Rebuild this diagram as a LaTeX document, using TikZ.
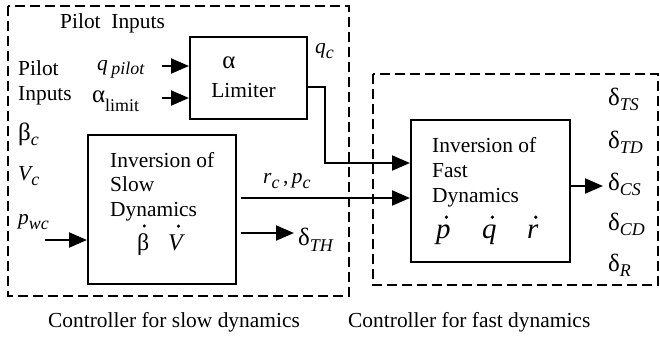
\documentclass[tikz,border=0pt]{standalone}
\usepackage{fontspec}
\setmainfont{Liberation Serif}
\usetikzlibrary{arrows.meta,calc}
\newcommand\lowsub[2][0.25em]{\raisebox{-#1}{\fontsize{18}{18}\selectfont #2}}
\newcommand\gk[1]{{\fontsize{25}{25}\selectfont #1}}
\begin{document}
\begin{tikzpicture}[x=1bp,y=-1bp,
  txt/.style={inner sep=0pt, anchor=base west, font=\fontsize{21.5}{26}\selectfont},
  big/.style={txt, font=\fontsize{29}{30}\selectfont\itshape},
  mid/.style={txt, font=\fontsize{24}{26}\selectfont},
  blk/.style={draw, line width=2bp, inner sep=0pt},
  dbox/.style={draw, line width=1.8bp, dash pattern=on 10bp off 5bp},
  arr/.style={line width=2bp, -{Triangle[length=18bp,width=15bp]}},
  dotacc/.style={fill=black}]
\useasboundingbox (0,0) rectangle (660,337);
% dashed frames
\draw[dbox] (8,6) rectangle (349,296);
\draw[dbox] (373,74) rectangle (658,285);
% blocks
\node[blk, minimum width=117bp, minimum height=82bp] (lim) at (248.5,78) {};
\node[blk, minimum width=148bp, minimum height=149bp] (slow) at (162,209.5) {};
\node[blk, minimum width=159bp, minimum height=142bp] (fast) at (490.5,191) {};
% texts
\node[txt] (pi1) at (60,28) {Pilot\ \ Inputs};
\node[txt] (pi2) at (18,75) {Pilot};
\node[txt] (pi3) at (18,100) {Inputs};
\node[txt] (bc) at (18,140) {\gk{β}\lowsub{\itshape c}};
\node[txt] (vc) at (18,180) {\itshape V\lowsub{c}};
\node[txt] (pwc) at (18,224) {\itshape p\lowsub{wc}};
\node[txt] (qpl) at (97,70) {\itshape q\,\lowsub[0.2em]{pilot}};
\node[txt] (alim) at (92,102) {\gk{α}\lowsub[0.45em]{limit}};
\node[txt, anchor=base] (la) at (229,68) {\gk{α}};
\node[txt, anchor=base] (ll) at (243.5,97) {Limiter};
\node[txt] (qc) at (315,53) {\itshape q\lowsub{c}};
\node[txt] (st1) at (110,167) {Inversion of};
\node[txt] (st2) at (110,191) {Slow};
\node[txt] (st3) at (110,216) {Dynamics};
\node[mid] (bd) at (137,250) {β};
\node[mid] (vd) at (168,250) {\itshape V};
\node[txt] (rp) at (263,183) {\itshape r\lowsub{c}\upshape\,,\,\itshape p\lowsub{c}};
\node[txt] (dth) at (298,245) {\gk{δ}\lowsub[0.3em]{\itshape TH}};
\node[txt] (ft1) at (432,152) {Inversion of};
\node[txt] (ft2) at (432,177) {Fast};
\node[txt] (ft3) at (432,202) {Dynamics};
\node[big] (pd) at (436,238) {p};
\node[big] (qd) at (482,238) {q};
\node[big] (rd) at (527,238) {r};
\node[txt] (dts) at (608,105) {\gk{δ}\lowsub{\itshape TS}};
\node[txt] (dtd) at (608,148) {\gk{δ}\lowsub{\itshape TD}};
\node[txt] (dcs) at (608,190) {\gk{δ}\lowsub{\itshape CS}};
\node[txt] (dcd) at (608,230) {\gk{δ}\lowsub{\itshape CD}};
\node[txt] (dr) at (608,271) {\gk{δ}\lowsub{\itshape R}};
\node[txt] (cap1) at (48,327) {Controller for slow dynamics};
\node[txt] (cap2) at (348,327) {Controller for fast dynamics};
% dot accents
\fill[dotacc] ($(bd.north)+(1,-7)$) circle (1.7bp);
\fill[dotacc] ($(vd.north)+(3,-8)$) circle (1.7bp);
\fill[dotacc] ($(pd.north)+(3,-7)$) circle (1.8bp);
\fill[dotacc] ($(qd.north)+(3,-7)$) circle (1.8bp);
\fill[dotacc] ($(rd.north)+(3,-7)$) circle (1.8bp);
% connectors
\coordinate (qs) at (162,66);
\coordinate (as) at (162,98);
\coordinate (ps) at (45,240);
\coordinate (rs) at (241,198);
\coordinate (ts) at (241,233);
\coordinate (te) at (294,233);
\coordinate (oe) at (603,186);
\coordinate (bend) at (325,87);
\draw[arr] (qs) -- (qs -| lim.west);
\draw[arr] (as) -- (as -| lim.west);
\draw[arr] (ps) -- (ps -| slow.west);
\draw[arr] (lim.east |- bend) -- (bend) |- ($(fast.west)+(0,-28)$);
\draw[arr] (rs) -- (rs -| fast.west);
\draw[arr] (ts) -- (te);
\draw[arr] ($(fast.east)+(-2,-5)$) -- (oe);
\end{tikzpicture}
\end{document}
